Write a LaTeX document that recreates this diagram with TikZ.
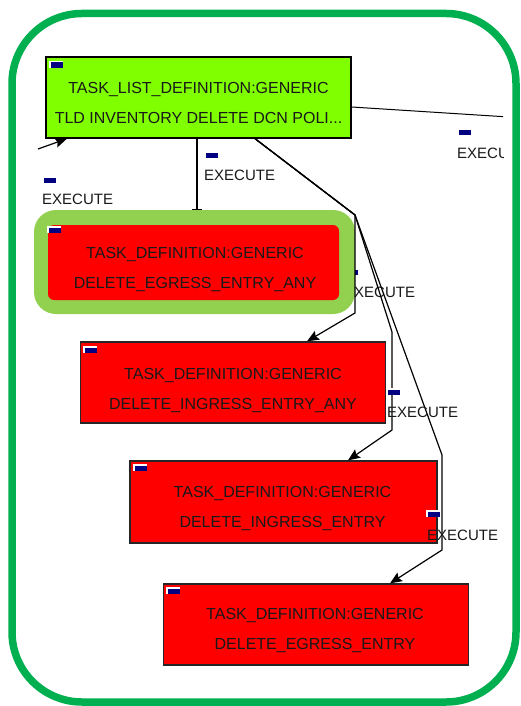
\documentclass[tikz,border=0pt]{standalone}
\usepackage{fontspec}
\setmainfont{Liberation Sans}
\usetikzlibrary{arrows.meta,calc}

\definecolor{framegreen}{HTML}{00B050}
\definecolor{listgreen}{HTML}{80FF00}
\definecolor{halogreen}{HTML}{92D050}
\definecolor{taskred}{HTML}{FF0000}
\definecolor{marknavy}{HTML}{000080}

\tikzset{
  box/.style={draw=black!85, line width=1.3pt, fill=taskred, minimum width=305pt, minimum height=81pt, inner sep=0pt},
  listbox/.style={box, fill=listgreen, draw=black},
  boxtext/.style={align=center, inner sep=0pt, font=\fontsize{16}{30}\selectfont, text=black!90},
  edgelabel/.style={anchor=west, inner sep=0pt, font=\fontsize{15}{18}\selectfont, text=black!90},
  flow/.style={line width=1.2pt, -{Stealth[length=12pt,width=10pt,inset=2pt]}},
  plain/.style={line width=1.2pt},
  flag/.pic={\fill[white] (0,0) rectangle (14,7); \fill[marknavy] (1.5,1.5) rectangle (14,7);}
}

\begin{document}
\begin{tikzpicture}[x=1pt,y=-1pt]
\useasboundingbox (0,0) rectangle (521,706);
\fill[white] (0,0) rectangle (521,706);

% task nodes
\node[listbox] (n1) at (198.5,97.5) {};
\node[boxtext] (n1t) at ($(n1.center)+(0,5.5)$) {TASK\_LIST\_DEFINITION:GENERIC\\TLD INVENTORY DELETE DCN POLI...};

\coordinate (b) at (355,215);
\coordinate (k1) at (355,313);
\coordinate (k2a) at (392,332);
\coordinate (k2b) at (392,430);
\coordinate (k3a) at (442,455);
\coordinate (k3b) at (442,550);

% the first branch label sits beneath the highlighted task
\pic at (344,268) {flag};
\node[edgelabel] (l1) at (344,292) {EXECUTE};

% highlighted task with halo
\fill[halogreen, rounded corners=22pt] (34,210) rectangle (355,314);
\node[box, draw=none, rounded corners=6pt, minimum width=291pt, minimum height=75pt] (n2) at (193.5,262.5) {};
\node[boxtext] (n2t) at ($(n2.center)+(1.5,7.5)$) {TASK\_DEFINITION:GENERIC\\DELETE\_EGRESS\_ENTRY\_ANY};
\coordinate (n2top) at (197,210);

\node[box] (n3) at (233,382.5) {};
\node[boxtext] (n3t) at ($(n3.center)+(0,7.5)$) {TASK\_DEFINITION:GENERIC\\DELETE\_INGRESS\_ENTRY\_ANY};
\node[box, minimum width=307pt, minimum height=82pt] (n4) at (283.5,502) {};
\node[boxtext] (n4t) at ($(n4.center)+(-1,6)$) {TASK\_DEFINITION:GENERIC\\DELETE\_INGRESS\_ENTRY};
\node[box, minimum width=305pt] (n5) at (316,624.5) {};
\node[boxtext] (n5t) at ($(n5.center)+(-1,5.5)$) {TASK\_DEFINITION:GENERIC\\DELETE\_EGRESS\_ENTRY};

% node flags
\pic at (49,61) {flag};
\pic at (47,226) {flag};
\pic at (83,346) {flag};
\pic at (133,464) {flag};
\pic at (166,587) {flag};

% connectors
\draw[plain, -{Bar[width=10pt,line width=1.2pt]}] (n1.south -| n2top) -- (n2top);
\coordinate (s1) at (255,139);
\draw[flow] (n1.south -| s1) -- (b) -- (k1) -- (n3.north -| 307,0);
\draw[flow] (n1.south -| s1) -- (b) -- (k2a) -- (k2b) -- (n4.north -| 348,0);
\draw[flow] (n1.south -| s1) -- (b) -- (k3a) -- (k3b) -- (n5.north -| 390,0);

\coordinate (inL) at (38,149);
\draw[flow] (inL) -- (n1.south -| 67,0);

\begin{scope}
  \clip (0,0) rectangle (503,706);
  \coordinate (outR) at (540,119);
  \draw[plain, line width=1pt] ($(n1.east)+(0,9.5)$) -- (outR);
  \pic at (457,128) {flag};
  \node[edgelabel] (l4) at (457,153) {EXECUTE};
\end{scope}

% connector labels
\pic at (204,151) {flag};
\node[edgelabel] (l0) at (204,175) {EXECUTE};
\pic at (42,176) {flag};
\node[edgelabel] (l5) at (42,199) {EXECUTE};
\pic at (386,388) {flag};
\node[edgelabel] (l2) at (387,412) {EXECUTE};
\pic at (426,510) {flag};
\node[edgelabel] (l3) at (427,535) {EXECUTE};

% outer frame
\draw[framegreen, line width=7.5pt, rounded corners=70pt] (12,13.5) rectangle (516,702);
\end{tikzpicture}
\end{document}
